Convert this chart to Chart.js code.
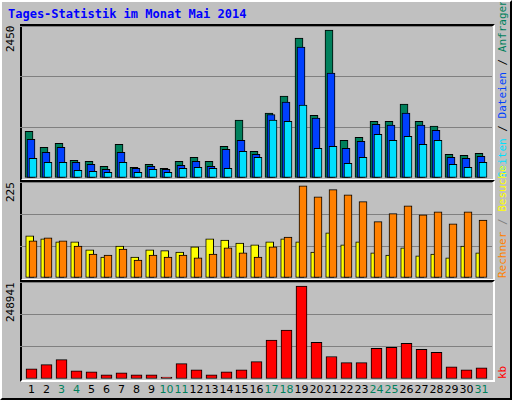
<!DOCTYPE html>
<html>
<head>
<meta charset="utf-8">
<script src="https://cdn.jsdelivr.net/npm/chart.js@4/dist/chart.umd.min.js"></script>
<style>
  body { margin:0; background:#fff; }
  #frame { position:relative; width:508px; height:396px; background:#c0c0c0; border:2px solid #000; border-top-color:#fff; border-left-color:#fff; overflow:hidden; }
  .panel { position:absolute; left:18px; width:471px; background:#c0c0c0; border:2px solid #000; border-right-color:#fff; border-bottom-color:#fff; box-sizing:content-box; }
  canvas.c { position:absolute; left:18px; }
  .t { position:absolute; font-family:"DejaVu Sans Mono",monospace; font-size:12px; }
  .v { position:absolute; writing-mode:vertical-rl; transform:rotate(180deg); font-family:"DejaVu Sans Mono",monospace; font-size:11px; white-space:nowrap; }
  #days span { position:absolute; top:0; width:16px; text-align:center; font-family:"DejaVu Sans","Liberation Sans",sans-serif; font-size:11px; }
</style>
</head>
<body>
<div id="frame">
  <div class="t" style="left:6px;top:5px;color:#0000ff;font-weight:bold;">Tages-Statistik im Monat Mai 2014</div>
  <div class="panel" style="top:22px;height:153px;"></div>
  <div class="panel" style="top:178px;height:97px;"></div>
  <div class="panel" style="top:278px;height:98px;"></div>
  <canvas class="c" id="c1" style="top:24px;width:472px;height:152px;"></canvas>
  <canvas class="c" id="c2" style="top:180px;width:472px;height:96px;"></canvas>
  <canvas class="c" id="c3" style="top:280px;width:472px;height:97px;"></canvas>
  <div class="v" style="left:2px;top:24px;height:152px;text-align:right;">2450</div>
  <div class="v" style="left:2px;top:180px;height:96px;text-align:right;">225</div>
  <div class="v" style="left:2px;top:280px;height:97px;text-align:right;">248941</div>
  <div class="v" style="left:494px;top:22px;height:154px;"><span style="color:#00e0ff">Seiten</span> / <span style="color:#0040ff">Dateien</span> / <span style="color:#00805c">Anfragen</span></div>
  <div class="v" style="left:494px;top:180px;height:96px;color:#808080;"><span style="color:#ff8000">Rechner</span> / <span style="color:#ffff00">Besuche</span></div>
  <div class="v" style="left:494px;top:280px;height:97px;"><span style="color:#ff0000">kb</span></div>
  <div id="days" style="position:absolute;left:0;top:381px;width:508px;height:14px;"></div>
</div>
<script>
  // === Daten ===
  const DAYS = Array.from({length:31}, (_, i) => i + 1);
  const WEEKEND = [3,4,10,11,17,18,24,25,31];
  const ANFRAGEN = [754,495,560,285,269,188,544,172,221,156,269,334,269,512,932,431,1045,1319,2256,1012,2386,608,657,915,915,1190,915,835,382,366,398];
  const DATEIEN  = [625,415,495,253,221,140,415,156,188,140,205,269,188,463,608,382,1023,1222,2111,964,1691,479,592,867,851,1045,851,770,334,318,350];
  const SEITEN   = [318,253,253,124,108,92,253,92,140,92,156,172,156,156,431,334,932,915,1174,479,512,237,334,705,608,673,544,608,221,172,253];
  const BESUCHE  = [99,92,85,85,66,49,75,49,66,64,61,73,92,89,82,78,85,92,85,61,106,78,85,59,54,71,52,56,47,75,59];
  const RECHNER  = [87,94,87,75,56,54,68,42,54,49,54,47,56,71,59,49,73,96,216,190,207,195,179,132,151,169,148,155,127,155,136];
  const KB = [26205,36687,49790,20964,18344,10482,15723,10482,10482,5241,39308,23585,10482,18344,23585,44549,99579,125784,238466,94338,57651,41928,41928,78615,81236,91718,75995,68133,31446,23585,28826];
  const MAX1 = 2450, MAX2 = 225, MAX3 = 248941;

  // px pro Tag: 15, Tag 1 bei x=13px im Canvas
  const PX_DAY = 15, W = 472;
  function xAxis(shiftPx) {
    const d = shiftPx / PX_DAY;
    const min = 1 - 13 / PX_DAY - d;
    return { type:'linear', display:false, offset:false, min, max: min + W / PX_DAY };
  }

  function makeChart(id, series, max) {
    const scales = { y: { min:0, max, ticks:{ display:false, stepSize:max/3 }, border:{ display:false },
      grid:{ color:'#808080', lineWidth:1, drawTicks:false } } };
    const datasets = series.map((s, i) => {
      scales['x' + i] = xAxis(s.shift);
      return {
        data: s.data.map((v, k) => ({ x: DAYS[k], y: v })),
        xAxisID: 'x' + i, backgroundColor: s.color, borderColor:'#000', borderWidth:1,
        barThickness: s.width, grouped:false, borderSkipped:false,
        order: series.length - 1 - i   // letzte Reihe liegt oben
      };
    });
    new Chart(document.getElementById(id), {
      type:'bar', data:{ datasets },
      options:{ responsive:false, animation:false, maintainAspectRatio:false,
        layout:{ padding:0 }, plugins:{ legend:{ display:false }, tooltip:{ enabled:false } }, scales }
    });
  }

  ['c1','c2','c3'].forEach(id => {
    const c = document.getElementById(id);
    c.width = parseInt(c.style.width); c.height = parseInt(c.style.height);
  });

  makeChart('c1', [
    { data: ANFRAGEN, color:'#00805c', shift:-4, width:8 },
    { data: DATEIEN,  color:'#0040ff', shift:-2, width:8 },
    { data: SEITEN,   color:'#00e0ff', shift:0,  width:8 }
  ], MAX1);
  makeChart('c2', [
    { data: BESUCHE, color:'#ffff00', shift:-3.3, width:8 },
    { data: RECHNER, color:'#ff8000', shift:0,    width:8 }
  ], MAX2);
  makeChart('c3', [
    { data: KB, color:'#ff0000', shift:-1.5, width:11 }
  ], MAX3);

  const days = document.getElementById('days');
  DAYS.forEach(d => {
    const s = document.createElement('span');
    s.textContent = d;
    s.style.left = (18 + 13 + (d - 1) * PX_DAY - 1.5 - 8) + 'px';
    s.style.color = WEEKEND.includes(d) ? '#00805c' : '#000';
    days.appendChild(s);
  });
</script>
</body>
</html>
